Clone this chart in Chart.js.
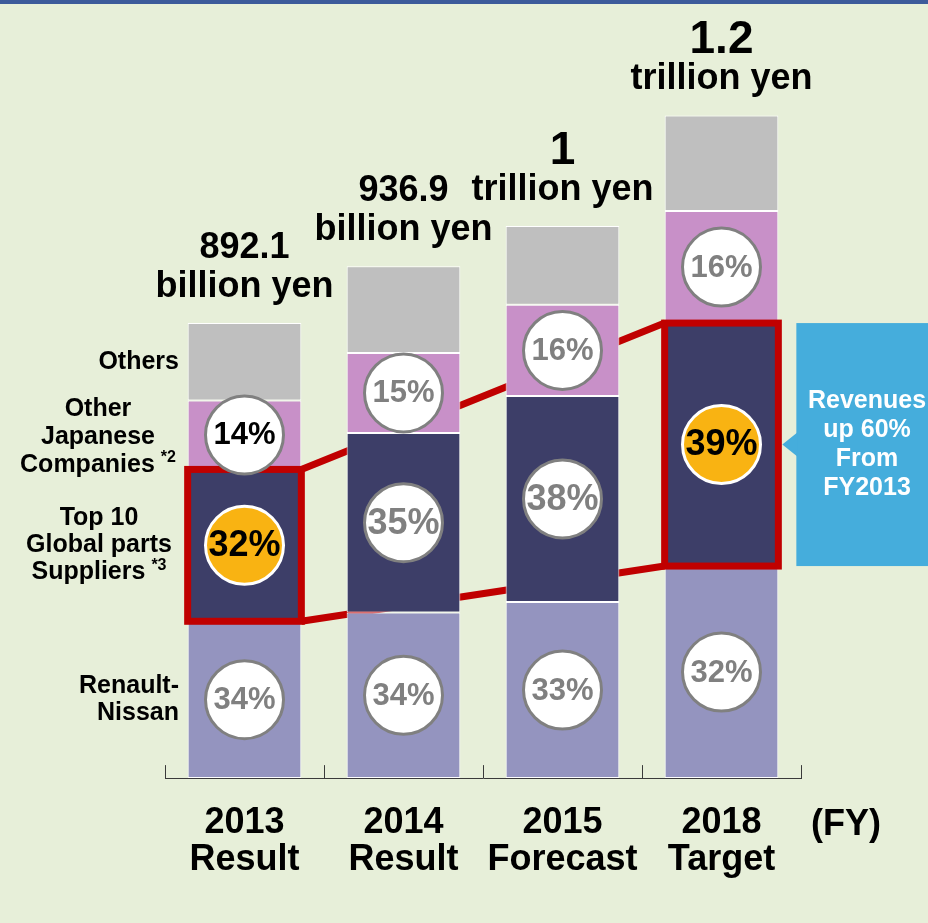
<!DOCTYPE html>
<html>
<head>
<meta charset="utf-8">
<script src="https://cdn.jsdelivr.net/npm/chart.js@4.4.1/dist/chart.umd.min.js"></script>
<style>
  html, body { margin: 0; padding: 0; background: #e7efd9; }
  #wrap { position: relative; width: 928px; height: 923px; overflow: hidden; }
  canvas { display: block; }
</style>
</head>
<body>
<div id="wrap"><canvas id="chart" width="928" height="923"></canvas></div>
<script>
// Fiscal years and their captions
const years = [['2013', 'Result'], ['2014', 'Result'], ['2015', 'Forecast'], ['2018', 'Target']];

// Segment sizes (billion yen)
const renaultNissan = [284, 300, 319, 384];
const topSuppliers = [275, 325, 373, 440];
const otherJapanese = [125, 145, 165, 203];
const others = [140, 157, 143, 173];

// Shares printed in the circles
const renaultPct = ['34%', '34%', '33%', '32%'];
const topPct = ['32%', '35%', '38%', '39%'];
const otherJpPct = ['14%', '15%', '16%', '16%'];

// Totals printed above the bars
const totalFigures = ['892.1', '936.9', '1', '1.2'];
const totalUnits = ['billion yen', 'billion yen', 'trillion yen', 'trillion yen'];

// Bars whose supplier share is boxed in red
const highlighted = [0, 3];

const FONT = "'Liberation Sans', Arial, sans-serif";
const RED = '#c00000';

function font(size) {
    return 'bold ' + size + 'px ' + FONT;
}

// Circle with a percentage in it
function drawBadge(ctx, x, y, text, orange, dark, size) {
    ctx.beginPath();
    ctx.arc(x, y, 39, 0, Math.PI * 2);
    ctx.fillStyle = orange ? '#f9b312' : '#ffffff';
    ctx.fill();
    ctx.lineWidth = 3;
    ctx.strokeStyle = orange ? '#ffffff' : '#808080';
    ctx.stroke();
    ctx.font = font(size);
    ctx.fillStyle = dark ? '#000000' : '#808080';
    ctx.textAlign = 'center';
    ctx.textBaseline = 'middle';
    ctx.fillText(text, x, y + 1);
}

// Multi-line label with an optional superscript on the last line
function drawBlock(ctx, lines, sup, x, cy, align, gap) {
    ctx.fillStyle = '#000000';
    ctx.textBaseline = 'middle';
    const start = cy - (lines.length - 1) * gap / 2;
    lines.forEach((line, i) => {
        const y = start + i * gap;
        ctx.font = font(25);
        const w = ctx.measureText(line).width;
        let supW = 0;
        if (sup && i === lines.length - 1) {
            ctx.font = font(16);
            supW = ctx.measureText(sup).width + 6;
        }
        let left = align === 'right' ? x - w - supW : x - (w + supW) / 2;
        ctx.font = font(25);
        ctx.textAlign = 'left';
        ctx.fillText(line, left, y);
        if (supW) {
            ctx.font = font(16);
            ctx.fillText(sup, left + w + 6, y - 7);
        }
    });
}

const decorations = {
    id: 'decorations',
    beforeDatasetsDraw(chart) {
        const ctx = chart.ctx;
        const top = chart.getDatasetMeta(1).data;
        // trend lines joining the two boxed segments, behind the bars
        const a = top[highlighted[0]];
        const b = top[highlighted[1]];
        ctx.save();
        ctx.strokeStyle = RED;
        ctx.lineWidth = 7;
        ctx.beginPath();
        ctx.moveTo(a.x + a.width / 2, a.y);
        ctx.lineTo(b.x - b.width / 2, b.y);
        ctx.moveTo(a.x + a.width / 2, a.base);
        ctx.lineTo(b.x - b.width / 2, b.base);
        ctx.stroke();
        ctx.restore();
    },
    afterDatasetsDraw(chart) {
        const ctx = chart.ctx;
        const area = chart.chartArea;
        const xs = chart.scales.x;
        ctx.save();

        // blue band along the top of the slide
        ctx.fillStyle = '#3d5b9b';
        ctx.fillRect(0, 0, chart.width, 4);

        // short ticks between categories
        ctx.strokeStyle = '#3a3a3a';
        ctx.lineWidth = 1;
        ctx.beginPath();
        for (let i = 0; i <= years.length; i++) {
            const x = Math.round(xs.getPixelForValue(i - 0.5)) + 0.5;
            ctx.moveTo(x, area.bottom);
            ctx.lineTo(x, area.bottom - 13);
        }
        ctx.stroke();

        // red boxes
        const top = chart.getDatasetMeta(1).data;
        ctx.strokeStyle = RED;
        ctx.lineWidth = 7;
        highlighted.forEach(i => {
            const el = top[i];
            ctx.strokeRect(el.x - el.width / 2, el.y, el.width, el.base - el.y);
        });

        // share badges
        const series = [renaultPct, topPct, otherJpPct];
        series.forEach((labels, d) => {
            chart.getDatasetMeta(d).data.forEach((el, i) => {
                const orange = d === 1 && highlighted.includes(i);
                const dark = orange || (d === 2 && i === 0);
                drawBadge(ctx, el.x, (el.y + el.base) / 2, labels[i], orange, dark, d === 1 ? 36 : 31);
            });
        });

        // totals above the bars
        chart.getDatasetMeta(3).data.forEach((el, i) => {
            ctx.fillStyle = '#000000';
            ctx.textAlign = 'center';
            ctx.textBaseline = 'middle';
            ctx.font = font(36);
            ctx.fillText(totalUnits[i], el.x, el.y - 36);
            ctx.font = font(totalUnits[i].startsWith('trillion') ? 46 : 36);
            ctx.fillText(totalFigures[i], el.x, el.y - 75);
        });

        // category names on the left, level with the first bar
        const first = d => chart.getDatasetMeta(d).data[0];
        const mid = el => (el.y + el.base) / 2;
        drawBlock(ctx, ['Others'], null, 179, mid(first(3)), 'right', 27);
        drawBlock(ctx, ['Other', 'Japanese', 'Companies'], '*2', 98, mid(first(2)) + 2, 'center', 28);
        drawBlock(ctx, ['Top 10', 'Global parts', 'Suppliers'], '*3', 99, mid(first(1)), 'center', 27);
        drawBlock(ctx, ['Renault-', 'Nissan'], null, 179, mid(first(0)), 'right', 27);

        // callout next to the 2018 box
        const t = top[3];
        const tip = t.x + t.width / 2 + 4;
        const boxLeft = tip + 14;
        const cy = (t.y + t.base) / 2;
        ctx.fillStyle = '#45addc';
        ctx.fillRect(boxLeft, t.y, chart.width - boxLeft, t.base - t.y);
        ctx.beginPath();
        ctx.moveTo(tip, cy);
        ctx.lineTo(boxLeft + 1, cy - 12);
        ctx.lineTo(boxLeft + 1, cy + 12);
        ctx.closePath();
        ctx.fill();
        ctx.fillStyle = '#ffffff';
        ctx.font = font(25);
        ctx.textAlign = 'center';
        ctx.textBaseline = 'middle';
        ['Revenues', 'up 60%', 'From', 'FY2013'].forEach((s, i) => {
            ctx.fillText(s, 867, cy - 43 + i * 29);
        });

        // fiscal-year marker
        ctx.fillStyle = '#000000';
        ctx.font = font(36);
        ctx.fillText('(FY)', 846, area.bottom + 47);

        ctx.restore();
    }
};

const barStyle = {
    borderColor: '#ffffff',
    borderWidth: 1,
    borderSkipped: false,
    barPercentage: 0.715,
    categoryPercentage: 1
};

new Chart(document.getElementById('chart').getContext('2d'), {
    type: 'bar',
    data: {
        labels: years,
        datasets: [
            { label: 'Renault-Nissan', data: renaultNissan, backgroundColor: '#9494bf', ...barStyle },
            { label: 'Top 10 Global parts Suppliers', data: topSuppliers, backgroundColor: '#3d3e68', ...barStyle },
            { label: 'Other Japanese Companies', data: otherJapanese, backgroundColor: '#c890c8', ...barStyle },
            { label: 'Others', data: others, backgroundColor: '#bfbfbf', ...barStyle }
        ]
    },
    options: {
        responsive: false,
        animation: false,
        layout: {
            padding: { top: 5, left: 165, right: 127, bottom: 18 }
        },
        plugins: {
            legend: { display: false },
            tooltip: { enabled: false }
        },
        scales: {
            x: {
                stacked: true,
                grid: { display: false, drawTicks: false },
                border: { display: true, color: '#3a3a3a', width: 1 },
                ticks: {
                    color: '#000000',
                    padding: 26,
                    maxRotation: 0,
                    autoSkip: false,
                    font: { family: FONT, size: 36, weight: 'bold', lineHeight: 1.04 }
                }
            },
            y: {
                stacked: true,
                display: false,
                min: 0,
                max: 1400
            }
        }
    },
    plugins: [decorations]
});
</script>
</body>
</html>
